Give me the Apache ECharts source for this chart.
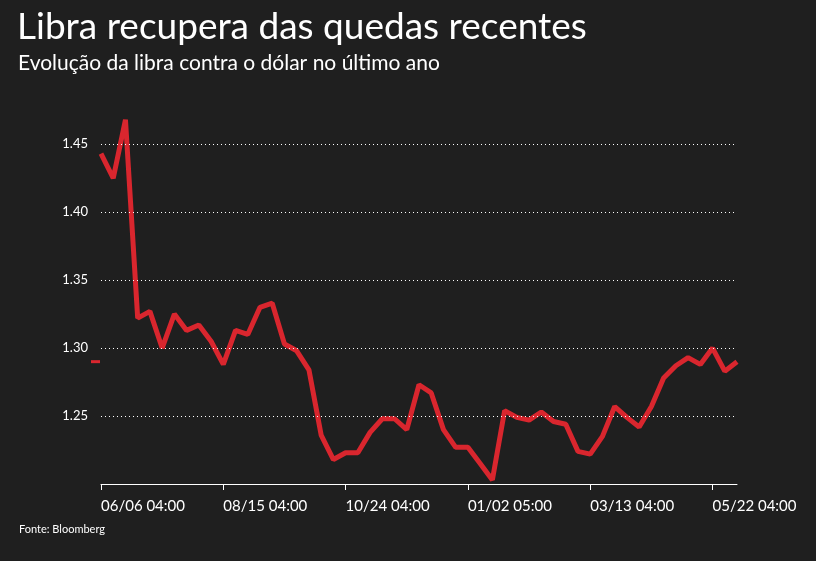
<!DOCTYPE html>
<html>
<head>
<meta charset="utf-8">
<script src="https://cdn.jsdelivr.net/npm/echarts@6/dist/echarts.min.js"></script>
<style>
  html, body { margin: 0; padding: 0; background: #1f1f1f; }
  #chart { width: 816px; height: 561px; }
</style>
</head>
<body>
<div id="chart"></div>
<script>
// datas semanais (rótulos do eixo x)
const categories = [
    '06/06 04:00', '06/13 04:00', '06/20 04:00', '06/27 04:00', '07/04 04:00', '07/11 04:00', '07/18 04:00',
    '07/25 04:00', '08/01 04:00', '08/08 04:00', '08/15 04:00', '08/22 04:00', '08/29 04:00', '09/05 04:00',
    '09/12 04:00', '09/19 04:00', '09/26 04:00', '10/03 04:00', '10/10 04:00', '10/17 04:00', '10/24 04:00',
    '10/31 04:00', '11/07 05:00', '11/14 05:00', '11/21 05:00', '11/28 05:00', '12/05 05:00', '12/12 05:00',
    '12/19 05:00', '12/26 05:00', '01/02 05:00', '01/09 05:00', '01/16 05:00', '01/23 05:00', '01/30 05:00',
    '02/06 05:00', '02/13 05:00', '02/20 05:00', '02/27 05:00', '03/06 05:00', '03/13 04:00', '03/20 04:00',
    '03/27 04:00', '04/03 04:00', '04/10 04:00', '04/17 04:00', '04/24 04:00', '05/01 04:00', '05/08 04:00',
    '05/15 04:00', '05/22 04:00', '05/29 04:00', '06/05 04:00'
];

// libra contra dólar
const gbpUsd = [
    1.443, 1.425, 1.468, 1.322, 1.327, 1.300, 1.325, 1.313, 1.317, 1.305,
    1.288, 1.313, 1.310, 1.330, 1.333, 1.303, 1.298, 1.284, 1.236, 1.218,
    1.223, 1.223, 1.238, 1.248, 1.248, 1.240, 1.273, 1.267, 1.240, 1.227,
    1.227, 1.215, 1.203, 1.254, 1.249, 1.247, 1.253, 1.246, 1.244, 1.224,
    1.222, 1.235, 1.257, 1.249, 1.242, 1.257, 1.278, 1.287, 1.293, 1.288,
    1.300, 1.283, 1.290
];

const yTicks = [1.25, 1.30, 1.35, 1.40, 1.45];

const FONT = 'Lato';
const chart = echarts.init(document.getElementById('chart'));

chart.setOption({
    backgroundColor: '#1f1f1f',
    animation: false,
    title: [
        { text: 'Libra recupera das quedas recentes', left: 12, top: 4,
          textStyle: { color: '#fff', fontSize: 37, fontWeight: 'normal', fontFamily: FONT } },
        { text: 'Evolução da libra contra o dólar no último ano', left: 13, top: 48,
          textStyle: { color: '#fff', fontSize: 21, fontWeight: 'normal', fontFamily: FONT } },
        { text: 'Fonte: Bloomberg', left: 14, top: 519,
          textStyle: { color: '#fff', fontSize: 11, fontWeight: 'normal', fontFamily: FONT } }
    ],
    grid: { left: 101, right: 79, top: 117, bottom: 77 },
    xAxis: {
        type: 'category',
        data: categories,
        boundaryGap: false,
        axisLine: { lineStyle: { color: '#fff', width: 1 } },
        axisTick: { show: true, interval: 9, length: 6, lineStyle: { color: '#fff' } },
        axisLabel: { interval: 9, color: '#fff', fontSize: 15, fontFamily: FONT, margin: 15, align: 'left' },
        splitLine: { show: false }
    },
    yAxis: {
        type: 'value',
        min: 1.2,
        max: 1.47,
        interval: 0.05,
        axisLine: { show: false },
        axisTick: { show: false },
        axisLabel: {
            color: '#fff', fontSize: 13, fontFamily: FONT, margin: 13,
            formatter: v => yTicks.some(t => Math.abs(t - v) < 1e-6) ? v.toFixed(2) : ''
        },
        splitLine: { show: false }
    },
    series: [{
        type: 'line',
        data: gbpUsd,
        symbol: 'none',
        lineStyle: { color: '#d9262e', width: 5 },
        z: 3,
        markLine: {
            silent: true,
            symbol: 'none',
            label: { show: false },
            lineStyle: { color: '#fff', type: [1, 3], width: 1 },
            data: yTicks.map(t => ({ yAxis: t }))
        }
    }]
});

// marcador do último valor no eixo y
const lastY = chart.convertToPixel({ yAxisIndex: 0 }, gbpUsd[gbpUsd.length - 1]);
chart.setOption({
    graphic: [{
        type: 'rect',
        shape: { x: 91, y: lastY - 1.5, width: 9, height: 3 },
        style: { fill: '#d9262e' }
    }]
});
</script>
</body>
</html>
